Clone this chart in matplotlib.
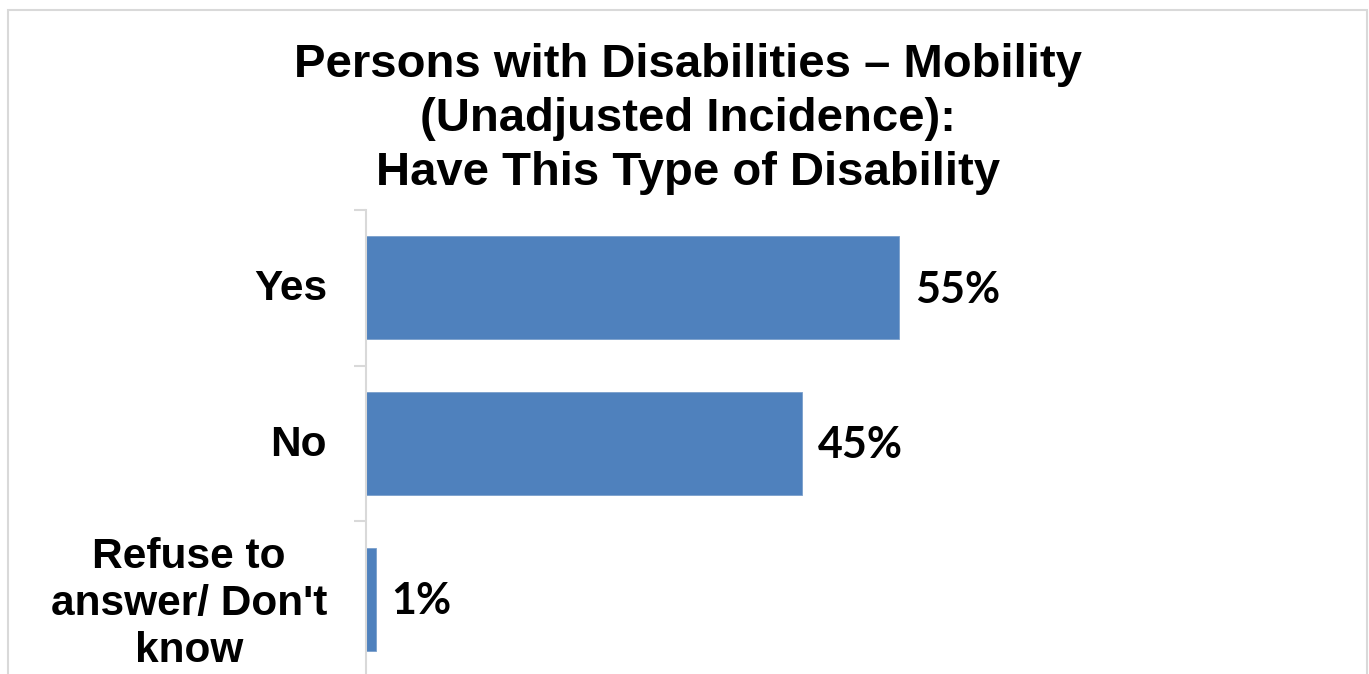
import matplotlib
matplotlib.use("Agg")
import matplotlib.pyplot as plt
import matplotlib.transforms as mtrans
from matplotlib.patches import Rectangle

title = "Persons with Disabilities \u2013 Mobility\n(Unadjusted Incidence):\nHave This Type of Disability"
categories = ["Yes", "No", "Refuse to\nanswer/ Don't\nknow"]
values = [55, 45, 1]
labels = ["55%", "45%", "1%"]

W, H = 1369, 674
fig = plt.figure(figsize=(W / 100, H / 100), dpi=100)
fig.patch.set_facecolor("white")

# outer chart border
fig.add_artist(Rectangle((8 / W, -0.05), (1367 - 8) / W, 1 - 10 / H + 0.05,
                         transform=fig.transFigure, fill=False,
                         edgecolor="#D9D9D9", linewidth=1.5))

ax = fig.add_axes([366 / W, -3 / H, (1350 - 366) / W, (677 - 210) / H])
y = list(range(len(categories)))
ax.barh(y, values, height=0.66, color="#4F81BD", edgecolor="#7A9FCC", linewidth=0.6)
ax.set_ylim(len(categories) - 0.5, -0.5)
ax.set_xlim(0, (1350 - 366) / ((899 - 366) / 55))

for s in ["top", "right", "bottom"]:
    ax.spines[s].set_visible(False)
ax.spines["left"].set_color("#D9D9D9")
ax.spines["left"].set_linewidth(1.5)
ax.set_xticks([])

ax.set_yticks([i - 0.5 for i in range(len(categories) + 1)])
ax.set_yticklabels([])
ax.tick_params(axis="y", which="major", length=9, width=1.5, color="#D9D9D9", direction="out")
ax.set_yticks(y, minor=True)
ax.set_yticklabels(categories, minor=True, fontsize=30.5, fontweight="bold",
                   family="Liberation Sans", linespacing=1.22, multialignment="center")
ax.tick_params(axis="y", which="minor", length=0, pad=28)
up = mtrans.ScaledTranslation(0, 3 / 100, fig.dpi_scale_trans)
for t in ax.get_yticklabels(minor=True):
    t.set_transform(t.get_transform() + up)

for yi, v, lab in zip(y, values, labels):
    ax.annotate(lab, (v, yi), xytext=(16, -2), textcoords="offset pixels",
                va="center", ha="left", fontsize=31, fontweight="bold", family="Lato")

fig.text(688 / W, 1 - 119 / H, title, ha="center", va="center", fontsize=34,
         fontweight="bold", family="Liberation Sans", linespacing=1.3)

fig.savefig("out.png", dpi=100, facecolor="white")
